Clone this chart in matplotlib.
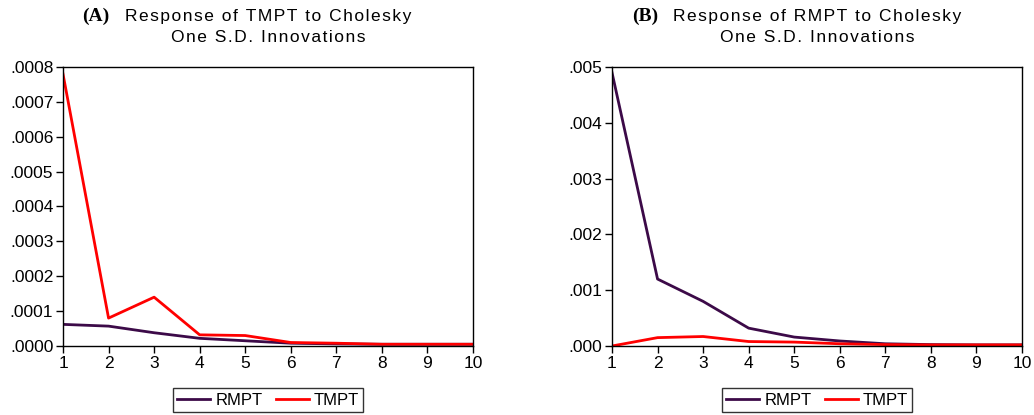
import matplotlib
matplotlib.use('Agg')
import matplotlib.pyplot as plt
from matplotlib.ticker import FuncFormatter

plt.rc('font', family=['Liberation Sans', 'DejaVu Sans'], size=11)

periods = [1, 2, 3, 4, 5, 6, 7, 8, 9, 10]

# (A) response of TMPT
a_rmpt = [0.000062, 0.000057, 0.000038, 0.000022, 0.000015, 0.000008, 0.000006, 0.000005, 0.000005, 0.000005]
a_tmpt = [0.00078, 0.00008, 0.00014, 0.000032, 0.00003, 0.00001, 0.000008, 0.000005, 0.000005, 0.000005]

# (B) response of RMPT
b_rmpt = [0.0049, 0.0012, 0.0008, 0.00032, 0.00016, 0.00009, 0.00004, 0.000025, 0.00002, 0.00002]
b_tmpt = [0.0, 0.00015, 0.00017, 0.00008, 0.00007, 0.00004, 0.000025, 0.00002, 0.00002, 0.00002]

purple = '#3c0a48'
red = '#ff0000'

fig = plt.figure(figsize=(10.34, 4.15), dpi=100)
W, H = 1034, 415

def spaced(s):
    # mimic the wide letter spacing of the original titles
    return '\u200a'.join(s)

def panel(left, tag, name, rm, tm, ymax, step, ndig):
    ax = fig.add_axes([left / W, 1 - 346 / H, 410 / W, 279 / H])
    l1, = ax.plot(periods, rm, color=purple, lw=2)
    l2, = ax.plot(periods, tm, color=red, lw=2)
    ax.set_xlim(1, 10)
    ax.set_ylim(0, ymax)
    ax.set_xticks(periods)
    n = int(round(ymax / step))
    ax.set_yticks([i * step for i in range(n + 1)])
    ax.yaxis.set_major_formatter(FuncFormatter(lambda v, p: ('%.*f' % (ndig, v))[1:]))
    ax.tick_params(direction='out', length=5, width=1, labelsize=12.5, pad=2)
    for s in ax.spines.values():
        s.set_linewidth(1)
    cx = (left + 205) / W
    fig.text(cx, 1 - 16 / H, spaced('Response of ' + name + ' to Cholesky'), ha='center', va='center', fontsize=12.5)
    fig.text(cx, 1 - 38 / H, spaced('One S.D. Innovations'), ha='center', va='center', fontsize=12.5)
    fig.text(cx - 172 / W, 1 - 16 / H, tag, ha='center', va='center', fontsize=14,
             family='Liberation Serif', fontweight='bold')
    leg = fig.legend([l1, l2], ['RMPT', 'TMPT'], loc='center', ncol=2,
                     bbox_to_anchor=((left + 205) / W, 1 - 400 / H), frameon=True,
                     fancybox=False, edgecolor='black', fontsize=12, handlelength=2.0,
                     borderpad=0.25, columnspacing=0.8, handletextpad=0.3)
    leg.get_frame().set_linewidth(1)
    return ax

panel(63, '(A)', 'TMPT', a_rmpt, a_tmpt, 0.0008, 0.0001, 4)
panel(612, '(B)', 'RMPT', b_rmpt, b_tmpt, 0.005, 0.001, 3)

fig.savefig('out.png', dpi=100)
